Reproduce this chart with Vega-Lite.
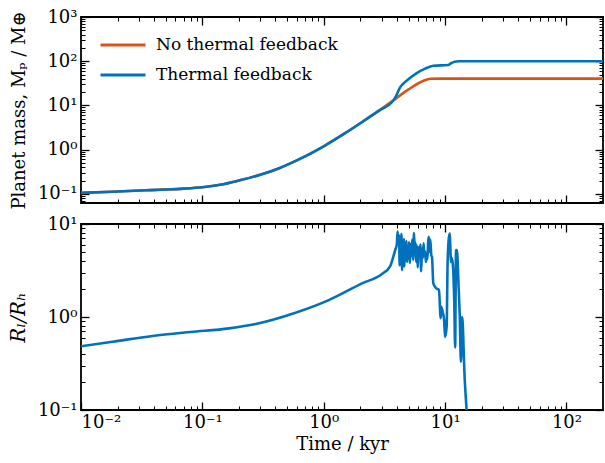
{
  "$schema": "https://vega.github.io/schema/vega-lite/v6.json",
  "background": "white",
  "padding": {"left": 7, "top": 7, "right": 2, "bottom": 5},
  "spacing": 21,
  "bounds": "flush",
  "config": {
    "view": {"stroke": "black", "strokeWidth": 1.8},
    "axis": {"grid": false, "domain": false, "ticks": true, "tickColor": "#000000", "tickOpacity": 1, "zindex": 1, "labelColor": "black", "titleColor": "black", "labelFont": "DejaVu Serif", "titleFont": "DejaVu Serif", "labelFontSize": 18, "titleFontSize": 19, "titleFontWeight": "normal"},
    "legend": {"labelFont": "DejaVu Serif"}
  },
  "datasets": {
    "mass": [
      {"t": 0.01, "m": 0.105, "s": "No thermal feedback"},
      {"t": 0.02, "m": 0.113, "s": "No thermal feedback"},
      {"t": 0.0343, "m": 0.12, "s": "No thermal feedback"},
      {"t": 0.05, "m": 0.125, "s": "No thermal feedback"},
      {"t": 0.07, "m": 0.131, "s": "No thermal feedback"},
      {"t": 0.1, "m": 0.141, "s": "No thermal feedback"},
      {"t": 0.14, "m": 0.16, "s": "No thermal feedback"},
      {"t": 0.2, "m": 0.2, "s": "No thermal feedback"},
      {"t": 0.3, "m": 0.27, "s": "No thermal feedback"},
      {"t": 0.43, "m": 0.38, "s": "No thermal feedback"},
      {"t": 0.6, "m": 0.57, "s": "No thermal feedback"},
      {"t": 1.0, "m": 1.19, "s": "No thermal feedback"},
      {"t": 1.5, "m": 2.35, "s": "No thermal feedback"},
      {"t": 2.07, "m": 4.2, "s": "No thermal feedback"},
      {"t": 2.83, "m": 7.5, "s": "No thermal feedback"},
      {"t": 3.75, "m": 13.0, "s": "No thermal feedback"},
      {"t": 5.0, "m": 23.0, "s": "No thermal feedback"},
      {"t": 6.64, "m": 36.0, "s": "No thermal feedback"},
      {"t": 7.53, "m": 40.0, "s": "No thermal feedback"},
      {"t": 9.0, "m": 40.3, "s": "No thermal feedback"},
      {"t": 200, "m": 40.3, "s": "No thermal feedback"},
      {"t": 0.01, "m": 0.105, "s": "Thermal feedback"},
      {"t": 0.02, "m": 0.113, "s": "Thermal feedback"},
      {"t": 0.0343, "m": 0.12, "s": "Thermal feedback"},
      {"t": 0.05, "m": 0.125, "s": "Thermal feedback"},
      {"t": 0.07, "m": 0.131, "s": "Thermal feedback"},
      {"t": 0.1, "m": 0.141, "s": "Thermal feedback"},
      {"t": 0.14, "m": 0.16, "s": "Thermal feedback"},
      {"t": 0.2, "m": 0.2, "s": "Thermal feedback"},
      {"t": 0.3, "m": 0.27, "s": "Thermal feedback"},
      {"t": 0.43, "m": 0.38, "s": "Thermal feedback"},
      {"t": 0.6, "m": 0.57, "s": "Thermal feedback"},
      {"t": 1.0, "m": 1.19, "s": "Thermal feedback"},
      {"t": 1.5, "m": 2.35, "s": "Thermal feedback"},
      {"t": 2.07, "m": 4.2, "s": "Thermal feedback"},
      {"t": 2.83, "m": 7.5, "s": "Thermal feedback"},
      {"t": 3.75, "m": 13.0, "s": "Thermal feedback"},
      {"t": 3.95, "m": 16.5, "s": "Thermal feedback"},
      {"t": 4.27, "m": 26.0, "s": "Thermal feedback"},
      {"t": 4.69, "m": 34.0, "s": "Thermal feedback"},
      {"t": 5.84, "m": 54.0, "s": "Thermal feedback"},
      {"t": 6.85, "m": 68.0, "s": "Thermal feedback"},
      {"t": 8.0, "m": 79.0, "s": "Thermal feedback"},
      {"t": 10.6, "m": 82.0, "s": "Thermal feedback"},
      {"t": 11.2, "m": 90.0, "s": "Thermal feedback"},
      {"t": 12.0, "m": 97.0, "s": "Thermal feedback"},
      {"t": 13.0, "m": 100.0, "s": "Thermal feedback"},
      {"t": 200, "m": 100.0, "s": "Thermal feedback"}
    ],
    "ratio": [
      {"t": 0.01, "r": 0.485}, {"t": 0.0182, "r": 0.542}, {"t": 0.0388, "r": 0.625}, {"t": 0.08, "r": 0.69},
      {"t": 0.166, "r": 0.755}, {"t": 0.275, "r": 0.84}, {"t": 0.585, "r": 1.11}, {"t": 1.1, "r": 1.52},
      {"t": 2.07, "r": 2.3}, {"t": 3.02, "r": 2.9}, {"t": 3.53, "r": 3.53}, {"t": 3.88, "r": 5.25},
      {"t": 4.0, "r": 6.0}, {"t": 4.06, "r": 8.3}, {"t": 4.12, "r": 6.2}, {"t": 4.18, "r": 7.5},
      {"t": 4.22, "r": 3.6}, {"t": 4.27, "r": 6.8}, {"t": 4.32, "r": 4.0}, {"t": 4.37, "r": 7.8},
      {"t": 4.42, "r": 3.2}, {"t": 4.47, "r": 6.3}, {"t": 4.52, "r": 4.3}, {"t": 4.57, "r": 6.9},
      {"t": 4.62, "r": 3.5}, {"t": 4.68, "r": 5.8}, {"t": 4.74, "r": 4.2}, {"t": 4.8, "r": 6.6},
      {"t": 4.86, "r": 3.9}, {"t": 4.92, "r": 5.5}, {"t": 4.98, "r": 4.4}, {"t": 5.05, "r": 6.4},
      {"t": 5.12, "r": 3.8}, {"t": 5.2, "r": 6.1}, {"t": 5.28, "r": 4.5}, {"t": 5.36, "r": 6.8},
      {"t": 5.45, "r": 4.1}, {"t": 5.55, "r": 8.0}, {"t": 5.63, "r": 4.6}, {"t": 5.7, "r": 6.3},
      {"t": 5.78, "r": 3.9}, {"t": 5.86, "r": 5.9}, {"t": 5.95, "r": 3.4}, {"t": 6.05, "r": 5.6},
      {"t": 6.15, "r": 4.4}, {"t": 6.25, "r": 6.0}, {"t": 6.35, "r": 3.1}, {"t": 6.45, "r": 5.4},
      {"t": 6.55, "r": 4.3}, {"t": 6.65, "r": 6.2}, {"t": 6.75, "r": 4.5}, {"t": 6.85, "r": 5.1},
      {"t": 6.95, "r": 3.9}, {"t": 7.05, "r": 4.8}, {"t": 7.15, "r": 4.2}, {"t": 7.25, "r": 6.4},
      {"t": 7.35, "r": 7.3}, {"t": 7.45, "r": 5.0}, {"t": 7.55, "r": 6.8}, {"t": 7.7, "r": 4.6},
      {"t": 7.8, "r": 4.4}, {"t": 8.0, "r": 2.3}, {"t": 8.4, "r": 2.05}, {"t": 8.9, "r": 1.95},
      {"t": 9.2, "r": 0.97}, {"t": 9.3, "r": 1.29}, {"t": 9.6, "r": 1.1}, {"t": 9.8, "r": 0.95},
      {"t": 10.0, "r": 0.61}, {"t": 10.3, "r": 0.79}, {"t": 10.5, "r": 4.1}, {"t": 10.9, "r": 7.9},
      {"t": 11.2, "r": 3.9}, {"t": 11.4, "r": 4.3}, {"t": 11.9, "r": 1.46}, {"t": 12.1, "r": 0.47},
      {"t": 12.3, "r": 5.25}, {"t": 12.5, "r": 5.25}, {"t": 12.9, "r": 2.2}, {"t": 13.2, "r": 1.05},
      {"t": 13.5, "r": 0.33}, {"t": 13.8, "r": 1.0}, {"t": 14.1, "r": 0.64}, {"t": 14.3, "r": 0.34},
      {"t": 15.1, "r": 0.09}, {"t": 15.6, "r": 0.04}
    ]
  },
  "vconcat": [
    {
      "width": 522,
      "height": 186,
      "data": {"name": "mass"},
      "resolve": {"axis": {"x": "independent", "y": "independent"}},
      "layer": [
        {
          "mark": {"type": "line", "strokeWidth": 2.6, "clip": true, "interpolate": "monotone"},
          "encoding": {
            "x": {"field": "t", "type": "quantitative",
              "scale": {"type": "log", "domain": [0.01, 200], "nice": false},
              "axis": {"orient": "bottom", "values": [0.01, 0.1, 1, 10, 100], "labels": false, "offset": -8, "tickSize": 8, "tickWidth": 1.3, "title": null}},
            "y": {"field": "m", "type": "quantitative",
              "scale": {"type": "log", "domain": [0.062, 1000], "nice": false},
              "axis": {"orient": "left", "values": [0.1, 1, 10, 100, 1000], "offset": -8, "tickSize": 8, "tickWidth": 1.3, "labelPadding": 4,
                "labelExpr": "datum.value < 0.5 ? '10⁻¹' : datum.value < 5 ? '10⁰' : datum.value < 50 ? '10¹' : datum.value < 500 ? '10²' : '10³'",
                "title": "Planet mass, Mₚ / M⊕", "titleFontSize": 18, "titlePadding": 9}},
            "color": {"field": "s", "type": "nominal",
              "scale": {"domain": ["No thermal feedback", "Thermal feedback"], "range": ["#D95319", "#0072BD"]},
              "legend": {"orient": "none", "legendX": 18, "legendY": 15, "title": null, "symbolType": "stroke", "symbolSize": 2025, "symbolStrokeWidth": 3, "labelFontSize": 17, "labelLimit": 400, "clipHeight": 26, "rowPadding": 4, "labelOffset": 9, "padding": 0}}
          }
        },
        {
          "mark": {"type": "line", "opacity": 0},
          "encoding": {
            "x": {"field": "t", "type": "quantitative", "axis": {"orient": "top", "values": [0.01, 0.1, 1, 10, 100], "labels": false, "offset": -8, "tickSize": 8, "tickWidth": 1.3, "title": null}},
            "y": {"field": "m", "type": "quantitative", "axis": {"orient": "right", "values": [0.1, 1, 10, 100, 1000], "labels": false, "offset": -8, "tickSize": 8, "tickWidth": 1.3, "title": null}}
          }
        },
        {
          "mark": {"type": "line", "opacity": 0},
          "encoding": {
            "x": {"field": "t", "type": "quantitative", "axis": {"orient": "bottom", "values": [0.02,0.03,0.04,0.05,0.06,0.07,0.08,0.09,0.2,0.3,0.4,0.5,0.6,0.7,0.8,0.9,2,3,4,5,6,7,8,9,20,30,40,50,60,70,80,90], "labels": false, "offset": -4, "tickSize": 4, "tickWidth": 1, "title": null}},
            "y": {"field": "m", "type": "quantitative", "axis": {"orient": "left", "values": [0.07,0.08,0.09,0.2,0.3,0.4,0.5,0.6,0.7,0.8,0.9,2,3,4,5,6,7,8,9,20,30,40,50,60,70,80,90,200,300,400,500,600,700,800,900], "labels": false, "offset": -4, "tickSize": 4, "tickWidth": 1, "title": null}}
          }
        },
        {
          "mark": {"type": "line", "opacity": 0},
          "encoding": {
            "x": {"field": "t", "type": "quantitative", "axis": {"orient": "top", "values": [0.02,0.03,0.04,0.05,0.06,0.07,0.08,0.09,0.2,0.3,0.4,0.5,0.6,0.7,0.8,0.9,2,3,4,5,6,7,8,9,20,30,40,50,60,70,80,90], "labels": false, "offset": -4, "tickSize": 4, "tickWidth": 1, "title": null}},
            "y": {"field": "m", "type": "quantitative", "axis": {"orient": "right", "values": [0.07,0.08,0.09,0.2,0.3,0.4,0.5,0.6,0.7,0.8,0.9,2,3,4,5,6,7,8,9,20,30,40,50,60,70,80,90,200,300,400,500,600,700,800,900], "labels": false, "offset": -4, "tickSize": 4, "tickWidth": 1, "title": null}}
          }
        }
      ]
    },
    {
      "width": 522,
      "height": 186,
      "data": {"name": "ratio"},
      "resolve": {"axis": {"x": "independent", "y": "independent"}},
      "layer": [
        {
          "mark": {"type": "line", "strokeWidth": 2.6, "clip": true, "color": "#0072BD", "interpolate": "monotone"},
          "encoding": {
            "x": {"field": "t", "type": "quantitative",
              "scale": {"type": "log", "domain": [0.01, 200], "nice": false},
              "axis": {"orient": "bottom", "values": [0.01, 0.1, 1, 10, 100], "offset": -8, "tickSize": 8, "tickWidth": 1.3, "labelPadding": 3,
                "labelExpr": "datum.value < 0.05 ? '10⁻²' : datum.value < 0.5 ? '10⁻¹' : datum.value < 5 ? '10⁰' : datum.value < 50 ? '10¹' : '10²'",
                "title": "Time / kyr", "titleFontSize": 18, "titlePadding": 4}},
            "y": {"field": "r", "type": "quantitative",
              "scale": {"type": "log", "domain": [0.1, 10], "nice": false},
              "axis": {"orient": "left", "values": [0.1, 1, 10], "offset": -8, "tickSize": 8, "tickWidth": 1.3, "labelPadding": 4,
                "labelExpr": "datum.value < 0.5 ? '10⁻¹' : datum.value < 5 ? '10⁰' : '10¹'",
                "title": "Rₗ/Rₕ", "titleFontStyle": "italic", "titleFontSize": 20, "titlePadding": 9}}
          }
        },
        {
          "mark": {"type": "line", "opacity": 0},
          "encoding": {
            "x": {"field": "t", "type": "quantitative", "axis": {"orient": "top", "values": [0.01, 0.1, 1, 10, 100], "labels": false, "offset": -8, "tickSize": 8, "tickWidth": 1.3, "title": null}},
            "y": {"field": "r", "type": "quantitative", "axis": {"orient": "right", "values": [0.1, 1, 10], "labels": false, "offset": -8, "tickSize": 8, "tickWidth": 1.3, "title": null}}
          }
        },
        {
          "mark": {"type": "line", "opacity": 0},
          "encoding": {
            "x": {"field": "t", "type": "quantitative", "axis": {"orient": "bottom", "values": [0.02,0.03,0.04,0.05,0.06,0.07,0.08,0.09,0.2,0.3,0.4,0.5,0.6,0.7,0.8,0.9,2,3,4,5,6,7,8,9,20,30,40,50,60,70,80,90], "labels": false, "offset": -4, "tickSize": 4, "tickWidth": 1, "title": null}},
            "y": {"field": "r", "type": "quantitative", "axis": {"orient": "left", "values": [0.2,0.3,0.4,0.5,0.6,0.7,0.8,0.9,2,3,4,5,6,7,8,9], "labels": false, "offset": -4, "tickSize": 4, "tickWidth": 1, "title": null}}
          }
        },
        {
          "mark": {"type": "line", "opacity": 0},
          "encoding": {
            "x": {"field": "t", "type": "quantitative", "axis": {"orient": "top", "values": [0.02,0.03,0.04,0.05,0.06,0.07,0.08,0.09,0.2,0.3,0.4,0.5,0.6,0.7,0.8,0.9,2,3,4,5,6,7,8,9,20,30,40,50,60,70,80,90], "labels": false, "offset": -4, "tickSize": 4, "tickWidth": 1, "title": null}},
            "y": {"field": "r", "type": "quantitative", "axis": {"orient": "right", "values": [0.2,0.3,0.4,0.5,0.6,0.7,0.8,0.9,2,3,4,5,6,7,8,9], "labels": false, "offset": -4, "tickSize": 4, "tickWidth": 1, "title": null}}
          }
        }
      ]
    }
  ]
}
